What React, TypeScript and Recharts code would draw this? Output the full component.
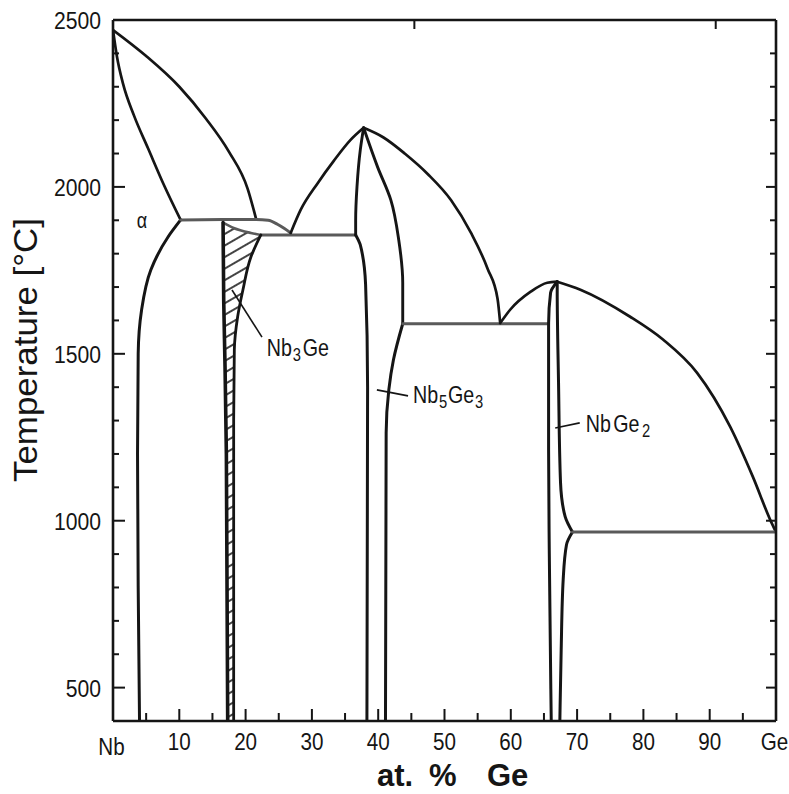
import React from 'react';
import { ComposedChart, Line, Area, XAxis, YAxis, ReferenceLine, ReferenceDot } from 'recharts';

type Pt = { x: number; t: number };

// ---- phase boundaries, composition in at.% Ge, temperature in °C ----
const nbLiquidus: Pt[] = [
  { x: 0, t: 2470 }, { x: 5, t: 2392 }, { x: 10, t: 2300 }, { x: 14, t: 2205 },
  { x: 17.5, t: 2105 }, { x: 20.3, t: 1995 }, { x: 21.6, t: 1903 },
];
const alphaSolidus: Pt[] = [
  { x: 0, t: 2470 }, { x: 0.6, t: 2390 }, { x: 1.5, t: 2310 }, { x: 3.2, t: 2212 }, { x: 5.3, t: 2115 },
  { x: 7.7, t: 2005 }, { x: 10.2, t: 1901 },
];
const alphaSolvus: Pt[] = [
  { x: 10.2, t: 1901 }, { x: 8.3, t: 1850 }, { x: 5.7, t: 1751 }, { x: 4.3, t: 1630 },
  { x: 3.8, t: 1500 }, { x: 3.7, t: 1200 }, { x: 3.8, t: 800 }, { x: 4.0, t: 400 },
];
const invariant1900: Pt[] = [
  { x: 10.2, t: 1901 }, { x: 16.6, t: 1902 }, { x: 21.6, t: 1902 }, { x: 23.4, t: 1900 },
  { x: 24.8, t: 1888 }, { x: 25.8, t: 1876 }, { x: 26.8, t: 1862 },
];
const nb3GeTop: Pt[] = [
  { x: 16.6, t: 1893 }, { x: 18.2, t: 1877 }, { x: 20.8, t: 1862 }, { x: 22.3, t: 1856 },
];
const eutectic1855: Pt[] = [{ x: 22.3, t: 1856 }, { x: 36.6, t: 1856 }];
const nb3GeLeft: Pt[] = [
  { x: 16.6, t: 1893 }, { x: 16.7, t: 1660 }, { x: 16.9, t: 1460 }, { x: 17.1, t: 1200 }, { x: 17.3, t: 400 },
];
const nb3GeRight: Pt[] = [
  { x: 22.3, t: 1856 }, { x: 20.8, t: 1790 }, { x: 19.6, t: 1692 }, { x: 18.8, t: 1611 },
  { x: 18.3, t: 1512 }, { x: 18.2, t: 1300 }, { x: 18.2, t: 400 },
];
const nb5Ge3LiquidusLeft: Pt[] = [
  { x: 26.8, t: 1862 }, { x: 28.3, t: 1931 }, { x: 30.9, t: 2012 }, { x: 33.3, t: 2078 },
  { x: 35.8, t: 2140 }, { x: 37.8, t: 2177 },
];
const nb5Ge3LiquidusRight: Pt[] = [
  { x: 37.8, t: 2177 }, { x: 40.8, t: 2148 }, { x: 44, t: 2100 }, { x: 47.5, t: 2038 },
  { x: 51, t: 1960 }, { x: 54, t: 1862 }, { x: 56.5, t: 1755 }, { x: 58.0, t: 1665 }, { x: 58.4, t: 1592 },
];
const nb5Ge3LeftUpper: Pt[] = [
  { x: 37.8, t: 2177 }, { x: 37.3, t: 2111 }, { x: 36.8, t: 2000 }, { x: 36.6, t: 1900 }, { x: 36.6, t: 1856 },
];
const nb5Ge3LeftLower: Pt[] = [
  { x: 36.6, t: 1856 }, { x: 37.3, t: 1826 }, { x: 38.1, t: 1707 }, { x: 38.4, t: 1400 }, { x: 38.3, t: 400 },
];
const nb5Ge3RightUpper: Pt[] = [
  { x: 37.8, t: 2177 }, { x: 39.9, t: 2060 }, { x: 41.9, t: 1961 }, { x: 43.1, t: 1841 },
  { x: 43.7, t: 1713 }, { x: 43.7, t: 1590 },
];
const nb5Ge3RightLower: Pt[] = [
  { x: 43.7, t: 1590 }, { x: 42.3, t: 1482 }, { x: 41.6, t: 1392 }, { x: 41.2, t: 1263 }, { x: 41.1, t: 400 },
];
const eutectic1590: Pt[] = [{ x: 43.7, t: 1590 }, { x: 65.7, t: 1590 }];
const nbGe2LiquidusLeft: Pt[] = [
  { x: 58.4, t: 1592 }, { x: 59.9, t: 1632 }, { x: 63.0, t: 1686 }, { x: 65.5, t: 1713 }, { x: 67.0, t: 1716 },
];
const nbGe2LiquidusRight: Pt[] = [
  { x: 67.0, t: 1716 }, { x: 70.5, t: 1692 }, { x: 78.0, t: 1611 }, { x: 83.0, t: 1542 },
  { x: 88.1, t: 1443 }, { x: 93.1, t: 1281 }, { x: 96.5, t: 1132 }, { x: 99.3, t: 995 }, { x: 100, t: 966 },
];
const nbGe2Left: Pt[] = [
  { x: 67.0, t: 1716 }, { x: 66.0, t: 1683 }, { x: 65.7, t: 1590 }, { x: 65.7, t: 1213 },
  { x: 65.8, t: 913 }, { x: 66.1, t: 400 },
];
const nbGe2RightUpper: Pt[] = [
  { x: 67.0, t: 1716 }, { x: 67.0, t: 1692 }, { x: 67.2, t: 1413 }, { x: 67.5, t: 1114 },
  { x: 68.2, t: 1012 }, { x: 69.3, t: 966 },
];
const nbGe2RightLower: Pt[] = [
  { x: 69.3, t: 966 }, { x: 68.4, t: 928 }, { x: 67.9, t: 823 }, { x: 67.6, t: 614 }, { x: 67.4, t: 400 },
];
const eutectic965: Pt[] = [{ x: 69.3, t: 966 }, { x: 100, t: 966 }];

// single-phase Nb3Ge field (hatched), lower/upper temperature at each composition
const nb3GeField = [
  { x: 16.6, band: [1893, 1893] },
  { x: 16.7, band: [1660, 1892] },
  { x: 16.9, band: [1460, 1890] },
  { x: 17.1, band: [1200, 1888] },
  { x: 17.3, band: [400, 1886] },
  { x: 18.2, band: [400, 1877] },
  { x: 18.2, band: [1300, 1877] },
  { x: 18.3, band: [1512, 1876] },
  { x: 18.8, band: [1611, 1873] },
  { x: 19.6, band: [1692, 1868] },
  { x: 20.8, band: [1790, 1862] },
  { x: 22.3, band: [1856, 1856] },
];

// ---- axes ----
const xTicks = [0, 5, 10, 15, 20, 25, 30, 35, 40, 45, 50, 55, 60, 65, 70, 75, 80, 85, 90, 95, 100];
const xLabelValues = [0, 10, 20, 30, 40, 50, 60, 70, 80, 90, 100];
const xLabelTexts = ['Nb', '10', '20', '30', '40', '50', '60', '70', '80', '90', 'Ge'];
const tTicks = [500, 600, 700, 800, 900, 1000, 1100, 1200, 1300, 1400, 1500, 1600, 1700, 1800, 1900, 2000, 2100, 2200, 2300, 2400, 2500];
const tLabelValues = [500, 1000, 1500, 2000, 2500];

// ---- phase labels and their leader lines ----
type Part = { s: string; sub?: boolean; dx?: number };
const phaseLabels: { x: number; t: number; parts: Part[]; size: number }[] = [
  { x: 3.6, t: 1877, size: 22, parts: [{ s: 'α' }] },
  { x: 23.2, t: 1493, size: 24, parts: [{ s: 'Nb' }, { s: '3', sub: true, dx: 1 }, { s: 'Ge', dx: 2 }] },
  { x: 45.25, t: 1353, size: 24, parts: [{ s: 'Nb' }, { s: '5', sub: true, dx: 1 }, { s: 'Ge', dx: 1 }, { s: '3', sub: true, dx: 1 }] },
  { x: 71.3, t: 1266, size: 24, parts: [{ s: 'Nb' }, { s: 'Ge', dx: 3 }, { s: '2', sub: true, dx: 3 }] },
];
const leaders = [
  [{ x: 17.95, y: 1691 }, { x: 22.47, y: 1550 }],
  [{ x: 39.8, y: 1392 }, { x: 44.5, y: 1374 }],
  [{ x: 66.7, y: 1278 }, { x: 70.4, y: 1293 }],
];

const INK = '#151515';
const GREY = '#5a5a5a';
const FONT = "'Liberation Sans', Arial, sans-serif";

type Series = { data: Pt[]; curve: any; color: string; width: number };
const series: Series[] = [
  { data: nbLiquidus, curve: 'monotoneX', color: INK, width: 2.7 },
  { data: alphaSolidus, curve: 'monotoneX', color: INK, width: 2.7 },
  { data: alphaSolvus, curve: 'monotoneY', color: INK, width: 3 },
  { data: invariant1900, curve: 'monotoneX', color: GREY, width: 3 },
  { data: nb3GeTop, curve: 'monotoneX', color: GREY, width: 2.6 },
  { data: eutectic1855, curve: 'linear', color: GREY, width: 3 },
  { data: nb3GeLeft, curve: 'monotoneY', color: INK, width: 3.6 },
  { data: nb3GeRight, curve: 'monotoneY', color: INK, width: 2.8 },
  { data: nb5Ge3LiquidusLeft, curve: 'monotoneX', color: INK, width: 2.7 },
  { data: nb5Ge3LiquidusRight, curve: 'monotoneX', color: INK, width: 2.7 },
  { data: nb5Ge3LeftUpper, curve: 'monotoneY', color: INK, width: 2.9 },
  { data: nb5Ge3LeftLower, curve: 'monotoneY', color: INK, width: 3 },
  { data: nb5Ge3RightUpper, curve: 'monotoneY', color: INK, width: 2.9 },
  { data: nb5Ge3RightLower, curve: 'monotoneY', color: INK, width: 3 },
  { data: eutectic1590, curve: 'linear', color: GREY, width: 3 },
  { data: nbGe2LiquidusLeft, curve: 'monotoneX', color: INK, width: 2.7 },
  { data: nbGe2LiquidusRight, curve: 'monotoneX', color: INK, width: 2.7 },
  { data: nbGe2Left, curve: 'monotoneY', color: INK, width: 3 },
  { data: nbGe2RightUpper, curve: 'monotoneY', color: INK, width: 3 },
  { data: nbGe2RightLower, curve: 'monotoneY', color: INK, width: 3 },
  { data: eutectic965, curve: 'linear', color: GREY, width: 3 },
];

function Txt(props: {
  x: number; y: number; size: number; sx?: number; anchor?: string; weight?: string | number;
  rotate?: number; length?: number; children: React.ReactNode;
}) {
  const { x, y, size, sx = 1, anchor = 'start', weight = 'normal', rotate = 0, length, children } = props;
  return (
    <text
      transform={`translate(${x} ${y}) rotate(${rotate}) scale(${sx} 1)`}
      fontSize={size}
      fontFamily={FONT}
      fontWeight={weight as any}
      textAnchor={anchor as any}
      fill={INK}
      {...(length ? { textLength: length, lengthAdjust: 'spacingAndGlyphs' } : {})}
    >
      {children}
    </text>
  );
}

const BottomTick = (p: any) => {
  const { x, y, payload } = p;
  const v = payload.value as number;
  const i = xLabelValues.indexOf(v);
  const len = v % 10 === 0 ? 12 : 8;
  return (
    <g>
      {v > 0 && v < 100 && <line x1={x} x2={x} y1={y} y2={y - len} stroke={INK} strokeWidth={2} />}
      {i >= 0 && (
        <Txt x={x - (v === 0 ? 1.5 : v === 100 ? 1.5 : 0)} y={y + (v === 0 ? 34 : 29)} size={24} sx={0.86} anchor="middle">
          {xLabelTexts[i]}
        </Txt>
      )}
    </g>
  );
};

const TopTick = (p: any) => {
  const { x, y } = p;
  return <line x1={x} x2={x} y1={y} y2={y + 9} stroke={INK} strokeWidth={2} />;
};

const LeftTick = (p: any) => {
  const { x, y, payload } = p;
  const v = payload.value as number;
  const major = v % 500 === 0;
  return (
    <g>
      {v < 2500 && <line x1={x} x2={x + (major ? 12 : 6)} y1={y} y2={y} stroke={INK} strokeWidth={2} />}
      {tLabelValues.includes(v) && (
        <Txt x={x - 12} y={y + 9} size={24} sx={0.88} anchor="end">
          {String(v)}
        </Txt>
      )}
    </g>
  );
};

const RightTick = (p: any) => {
  const { x, y, payload } = p;
  const v = payload.value as number;
  if (v >= 2500) return <g />;
  const major = v % 500 === 0;
  return <line x1={x} x2={x - (major ? 10 : 6)} y1={y} y2={y} stroke={INK} strokeWidth={2} />;
};

function PhaseLabel({ cx, cy, parts, size }: { cx: number; cy: number; parts: Part[]; size: number }) {
  let prevSub = false;
  return (
    <Txt x={cx} y={cy} size={size} sx={0.82}>
      {parts.map((pt, k) => {
        const dy = pt.sub && !prevSub ? 5 : !pt.sub && prevSub ? -5 : 0;
        prevSub = !!pt.sub;
        return (
          <tspan key={k} dy={dy} dx={pt.dx ?? 0} fontSize={pt.sub ? 18 : size}>
            {pt.s}
          </tspan>
        );
      })}
    </Txt>
  );
}

export default function App() {
  return (
    <div style={{ position: 'absolute', left: 0, top: 0, background: '#fff' }}>
      <ComposedChart
        width={789}
        height={794}
        data={nb3GeField}
        margin={{ top: 0, right: 0, bottom: 0, left: 0 }}
      >
        <defs>
          <pattern id="nb3geHatch" patternUnits="userSpaceOnUse" width="10" height="10" patternTransform="rotate(-30)">
            <line x1="0" y1="5" x2="10" y2="5" stroke={INK} strokeWidth="1.6" />
          </pattern>
        </defs>

        <XAxis
          xAxisId="b" dataKey="x" type="number" domain={[0, 100]} ticks={xTicks} interval={0}
          height={73} tickSize={0} tickMargin={0} tickLine={false}
          axisLine={{ stroke: INK, strokeWidth: 2.6 }} tick={<BottomTick />} allowDataOverflow
        />
        <XAxis
          xAxisId="top" orientation="top" type="number" domain={[0, 100]}
          ticks={xTicks.filter((v) => v > 0 && v < 100)} interval={0}
          height={20} tickSize={0} tickMargin={0} tickLine={false}
          axisLine={{ stroke: INK, strokeWidth: 2.6 }} tick={<TopTick />} allowDataOverflow
        />
        <YAxis
          yAxisId="l" type="number" domain={[400, 2500]} ticks={tTicks} interval={0}
          width={113} tickSize={0} tickMargin={0} tickLine={false}
          axisLine={{ stroke: INK, strokeWidth: 2.6 }} tick={<LeftTick />} allowDataOverflow
        />
        <YAxis
          yAxisId="r" orientation="right" type="number" domain={[400, 2500]} ticks={tTicks} interval={0}
          width={13} tickSize={0} tickMargin={0} tickLine={false}
          axisLine={{ stroke: INK, strokeWidth: 2.6 }} tick={<RightTick />} allowDataOverflow
        />

        <Area
          xAxisId="b" yAxisId="l" dataKey="band" type="linear"
          fill="url(#nb3geHatch)" fillOpacity={1} stroke="none" isAnimationActive={false}
        />

        {series.map((s, k) => (
          <Line
            key={k} xAxisId="b" yAxisId="l" data={s.data} dataKey="t" type={s.curve}
            stroke={s.color} strokeWidth={s.width} dot={false} activeDot={false}
            isAnimationActive={false} strokeLinejoin="round" strokeLinecap="round"
          />
        ))}

        {leaders.map((seg, k) => (
          <ReferenceLine
            key={`ld${k}`} xAxisId="b" yAxisId="l" segment={seg as any}
            stroke={INK} strokeWidth={1.6} ifOverflow="visible"
          />
        ))}

        {phaseLabels.map((lb, k) => (
          <ReferenceDot
            key={`lb${k}`} xAxisId="b" yAxisId="l" x={lb.x} y={lb.t} r={0} ifOverflow="visible"
            shape={(p: any) => <PhaseLabel cx={p.cx} cy={p.cy} parts={lb.parts} size={lb.size} />}
          />
        ))}

        <Txt x={37} y={482} size={33} rotate={-90} length={264}>Temperature [°C]</Txt>
        <Txt x={377} y={786} size={31} weight="bold">at.</Txt>
        <Txt x={429} y={786} size={31} weight="bold">%</Txt>
        <Txt x={487} y={786} size={31} weight="bold">Ge</Txt>
      </ComposedChart>
    </div>
  );
}
